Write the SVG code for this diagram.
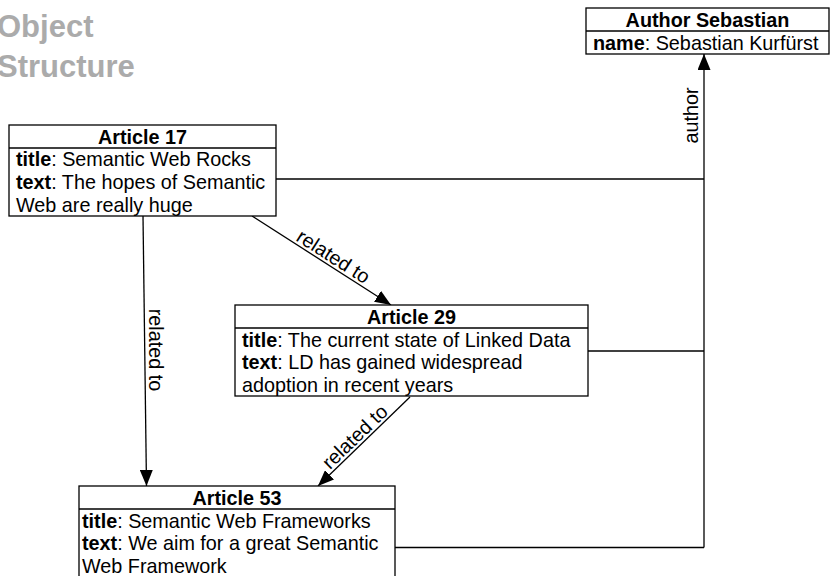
<svg xmlns="http://www.w3.org/2000/svg" width="830" height="576" viewBox="0 0 830 576">
  <defs>
    <marker id="arrow" markerUnits="userSpaceOnUse" markerWidth="16" markerHeight="13" refX="16" refY="6.5" orient="auto">
      <path d="M0,0 L16,6.5 L0,13 z" fill="#000"/>
    </marker>
    <style>
      .box { fill: #fff; stroke: #000; stroke-width: 1.3; }
      .sep { stroke: #000; stroke-width: 1.3; }
      .t { font-family: "Liberation Sans", Arial, Helvetica, sans-serif; font-size: 19.8px; fill: #000; }
      .hd { font-weight: bold; text-anchor: middle; }
      .b { font-weight: bold; }
      .edge { fill: none; stroke: #000; stroke-width: 1.3; }
      .lbl { font-family: "Liberation Sans", Arial, Helvetica, sans-serif; font-size: 19.8px; fill: #000; text-anchor: middle; }
      .heading { font-family: "Liberation Sans", Arial, Helvetica, sans-serif; font-size: 31px; font-weight: bold; fill: #ababab; }
    </style>
  </defs>

  <rect width="830" height="576" fill="#fff"/>

  <!-- heading -->
  <text class="heading" x="-3" y="37">Object</text>
  <text class="heading" x="-3" y="77">Structure</text>

  <!-- connectors -->
  <g id="connectors">
    <!-- author links -->
    <path class="edge" d="M276,179 H704"/>
    <path class="edge" d="M588,351 H704"/>
    <path class="edge" d="M395,547.5 H704"/>
    <path class="edge" d="M704,547.5 V54" marker-end="url(#arrow)"/>
    <text class="lbl" transform="translate(698,115.5) rotate(-90)" x="0" y="0">author</text>

    <!-- Article 17 -> Article 53 -->
    <path class="edge" d="M143,216 L146.5,486" marker-end="url(#arrow)"/>
    <text class="lbl" transform="translate(149,350) rotate(90)" x="0" y="0">related to</text>

    <!-- Article 17 -> Article 29 -->
    <path class="edge" d="M252,216 L391,305" marker-end="url(#arrow)"/>
    <text class="lbl" transform="translate(252,216) rotate(32.6)" x="90.3" y="-3">related to</text>

    <!-- Article 29 -> Article 53 -->
    <path class="edge" d="M410,397 L318,486" marker-end="url(#arrow)"/>
    <text class="lbl" transform="translate(318,486) rotate(-44)" x="60.7" y="-3">related to</text>
  </g>

  <!-- Author Sebastian -->
  <g id="author-sebastian">
    <rect class="box" x="586" y="8" width="243" height="46"/>
    <line class="sep" x1="586" y1="31" x2="829" y2="31"/>
    <text class="t hd" x="707.5" y="26.5">Author Sebastian</text>
    <text class="t" x="593" y="49.5"><tspan class="b">name</tspan>: Sebastian Kurfürst</text>
  </g>

  <!-- Article 17 -->
  <g id="article-17">
    <rect class="box" x="9" y="125" width="267" height="91"/>
    <line class="sep" x1="9" y1="148" x2="276" y2="148"/>
    <text class="t hd" x="142.5" y="143.5">Article 17</text>
    <text class="t" x="16" y="166"><tspan class="b">title</tspan>: Semantic Web Rocks</text>
    <text class="t" x="16" y="189"><tspan class="b">text</tspan>: The hopes of Semantic</text>
    <text class="t" x="16" y="211.5">Web are really huge</text>
  </g>

  <!-- Article 29 -->
  <g id="article-29">
    <rect class="box" x="235" y="305" width="353" height="91"/>
    <line class="sep" x1="235" y1="328" x2="588" y2="328"/>
    <text class="t hd" x="411.5" y="323.5">Article 29</text>
    <text class="t" x="242" y="346.5"><tspan class="b">title</tspan>: The current state of Linked Data</text>
    <text class="t" x="242" y="369"><tspan class="b">text</tspan>: LD has gained widespread</text>
    <text class="t" x="242" y="391.5">adoption in recent years</text>
  </g>

  <!-- Article 53 -->
  <g id="article-53">
    <rect class="box" x="79" y="486" width="316" height="91"/>
    <line class="sep" x1="79" y1="509" x2="395" y2="509"/>
    <text class="t hd" x="237" y="504.5">Article 53</text>
    <text class="t" x="82" y="527.5"><tspan class="b">title</tspan>: Semantic Web Frameworks</text>
    <text class="t" x="82" y="550"><tspan class="b">text</tspan>: We aim for a great Semantic</text>
    <text class="t" x="82" y="572.5">Web Framework</text>
  </g>
</svg>
